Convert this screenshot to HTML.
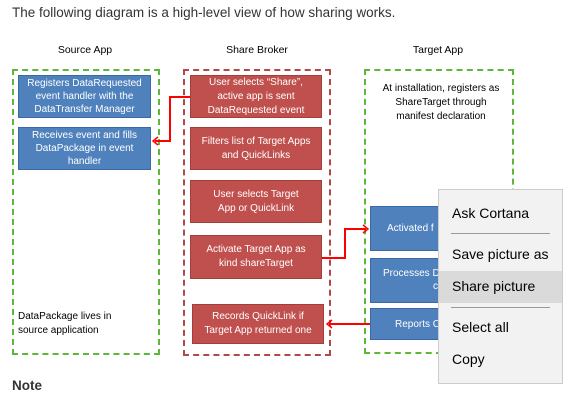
<html><head><style>
body{margin:0;width:571px;height:401px;background:#fff;position:relative;overflow:hidden;font-family:"Liberation Sans",sans-serif}
.a{position:absolute}
.t{font-size:13.5px;color:#333;left:12px;top:5px}
.h{font-size:10.5px;color:#000;text-align:center;width:150px;top:44px}
.d{border:2px dashed;box-sizing:border-box}
.b{background:#4f81bd;border:1px solid #3a6aa5;color:#fff;font-size:10px;text-align:center;box-sizing:border-box;display:flex;align-items:center;justify-content:center;line-height:13px;padding:0 8px}
.r{background:#c0504d;border:1px solid #a33e3b;color:#fff;font-size:10px;text-align:center;box-sizing:border-box;display:flex;align-items:center;justify-content:center;line-height:14px;padding:0 10px}
.m{font-size:14px;color:#000;left:452px}
</style></head><body>
<div class="a t">The following diagram is a high-level view of how sharing works.</div>
<div class="a h" style="left:10px">Source App</div>
<div class="a h" style="left:182px">Share Broker</div>
<div class="a h" style="left:363px">Target App</div>
<div class="a d" style="left:12px;top:69px;width:148px;height:286px;border-color:#5db83a"></div>
<div class="a d" style="left:183px;top:69px;width:148px;height:287px;border-color:#b04a4a"></div>
<div class="a d" style="left:364px;top:69px;width:150px;height:285px;border-color:#5db83a"></div>
<div class="a b" style="left:18px;top:75px;width:133px;height:43px">Registers DataRequested event handler with the DataTransfer Manager</div>
<div class="a b" style="left:18px;top:127px;width:133px;height:43px;padding:0 6px">Receives event and fills DataPackage in event handler</div>
<div class="a" style="left:18px;top:310px;font-size:10px;line-height:14px;width:110px">DataPackage lives in source application</div>
<div class="a r" style="left:190px;top:75px;width:132px;height:43px">User selects “Share”, active app is sent DataRequested event</div>
<div class="a r" style="left:190px;top:127px;width:132px;height:43px">Filters list of Target Apps and QuickLinks</div>
<div class="a r" style="left:190px;top:180px;width:132px;height:43px;padding:0 14px">User selects Target App or QuickLink</div>
<div class="a r" style="left:190px;top:235px;width:132px;height:44px;padding:0 14px">Activate Target App as kind shareTarget</div>
<div class="a r" style="left:192px;top:304px;width:132px;height:40px;padding:0 8px">Records QuickLink if Target App returned one</div>
<div class="a" style="left:378px;top:82px;width:126px;font-size:10px;line-height:14px;text-align:center">At installation, registers as ShareTarget through manifest declaration</div>
<div class="a b" style="left:370px;top:206px;width:140px;height:45px;justify-content:flex-start;padding-left:16px">Activated f</div>
<div class="a b" style="left:370px;top:258px;width:140px;height:45px;justify-content:flex-start;align-items:flex-start;padding:8px 0 0 12px;text-align:left">Processes D<br>&nbsp;&nbsp;&nbsp;&nbsp;&nbsp;&nbsp;&nbsp;&nbsp;&nbsp;&nbsp;&nbsp;&nbsp;&nbsp;&nbsp;&nbsp;&nbsp;&nbsp;&nbsp;conte</div>
<div class="a b" style="left:370px;top:308px;width:140px;height:32px;justify-content:flex-start;padding-left:24px">Reports C</div>
<svg class="a" style="left:0;top:0" width="571" height="401">
<g stroke="#f00" stroke-width="2" fill="none">
<polyline points="190,97 170,97 170,141 155,141"/>
<polyline points="322,258 345,258 345,229 366,229"/>
<polyline points="370,324 329,324"/>
</g>
<g fill="none" stroke="#f00" stroke-width="1.5">
<polyline points="158,137 153,141 158,145"/>
<polyline points="363,225 368,229 363,233"/>
<polyline points="332,320 327,324 332,328"/>
</g>
</svg>
<div class="a" style="left:438px;top:189px;width:125px;height:195px;background:#f2f2f2;border:1px solid #ccc;box-sizing:border-box"></div>
<div class="a" style="left:439px;top:271px;width:123px;height:32px;background:#dadada"></div>
<div class="a" style="left:451px;top:233px;width:99px;height:1px;background:#999"></div>
<div class="a" style="left:451px;top:307px;width:99px;height:1px;background:#999"></div>
<div class="a m" style="top:205px">Ask Cortana</div>
<div class="a m" style="top:246px">Save picture as</div>
<div class="a m" style="top:278px">Share picture</div>
<div class="a m" style="top:319px">Select all</div>
<div class="a m" style="top:351px">Copy</div>
<div class="a" style="left:12px;top:378px;font-size:13.5px;font-weight:bold;color:#333">Note</div>
</body></html>
